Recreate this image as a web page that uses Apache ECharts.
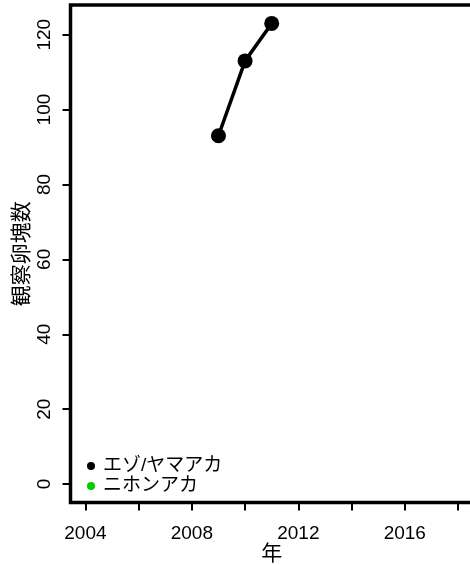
<!DOCTYPE html>
<html>
<head>
<meta charset="utf-8">
<script src="https://cdn.jsdelivr.net/npm/echarts@6/dist/echarts.min.js"></script>
<style>html,body{margin:0;padding:0;background:#fff;}#c{width:470px;height:565px;}</style>
</head>
<body>
<div id="c"></div>
<script>
const years = [2009, 2010, 2011];
const ezoYamaaka = [93, 113, 123];
const nihonaka = [];
const seriesNames = ['エゾ/ヤマアカ', 'ニホンアカ'];
const xTicks = [2004, 2006, 2008, 2010, 2012, 2014, 2016, 2018];
const xLabels = [2004, 2008, 2012, 2016];
const yTicks = [0, 20, 40, 60, 80, 100, 120];
const xName = '年';
const yName = '観察卵塊数';

const FONT = "'Liberation Sans', 'Noto Sans CJK JP', sans-serif";
const chart = echarts.init(document.getElementById('c'), null, {renderer: 'canvas'});
chart.setOption({
  animation: false,
  backgroundColor: '#fff',
  grid: {left: 70.5, right: -2.9, top: 5, bottom: 62.5, show: true, borderColor: '#000', borderWidth: 3.5,
         backgroundColor: 'transparent', containLabel: false, outerBoundsMode: 'none'},
  legend: {
    orient: 'vertical', left: 82, top: 451, itemGap: 0, itemWidth: 8, itemHeight: 8,
    icon: 'circle', data: seriesNames,
    textStyle: {fontFamily: FONT, fontSize: 19, color: '#000', lineHeight: 20, padding: [0, 0, 0, 3]}
  },
  xAxis: {
    type: 'value', min: 2003.44, max: 2018.56,
    name: xName, nameLocation: 'middle', nameGap: 41, nameMoveOverlap: false,
    nameTextStyle: {fontFamily: FONT, fontSize: 21, color: '#000'},
    axisLine: {show: false, onZero: false},
    axisTick: {show: true, inside: false, length: 8, lineStyle: {color: '#000', width: 2}, customValues: xTicks},
    axisLabel: {fontFamily: FONT, fontSize: 19, color: '#000', margin: 22, customValues: xLabels,
                formatter: v => String(v)},
    splitLine: {show: false}
  },
  yAxis: {
    type: 'value', min: -4.92, max: 127.92,
    name: yName, nameLocation: 'middle', nameGap: 38, nameRotate: 90, nameMoveOverlap: false,
    nameTextStyle: {fontFamily: FONT, fontSize: 21, color: '#000'},
    axisLine: {show: false, onZero: false},
    axisTick: {show: true, inside: false, length: 8, lineStyle: {color: '#000', width: 2}, customValues: yTicks},
    axisLabel: {fontFamily: FONT, fontSize: 19, color: '#000', margin: 16, rotate: 90, customValues: yTicks,
                formatter: v => String(v)},
    splitLine: {show: false}
  },
  series: [
    {
      name: seriesNames[0], type: 'line',
      data: years.map((y, i) => [y, ezoYamaaka[i]]),
      symbol: 'circle', symbolSize: 15,
      lineStyle: {color: '#000', width: 3.5},
      itemStyle: {color: '#000'}
    },
    {
      name: seriesNames[1], type: 'line',
      data: nihonaka,
      symbol: 'circle', symbolSize: 15,
      lineStyle: {color: '#00CD00', width: 3.5},
      itemStyle: {color: '#00CD00'}
    }
  ]
});
</script>
</body>
</html>
